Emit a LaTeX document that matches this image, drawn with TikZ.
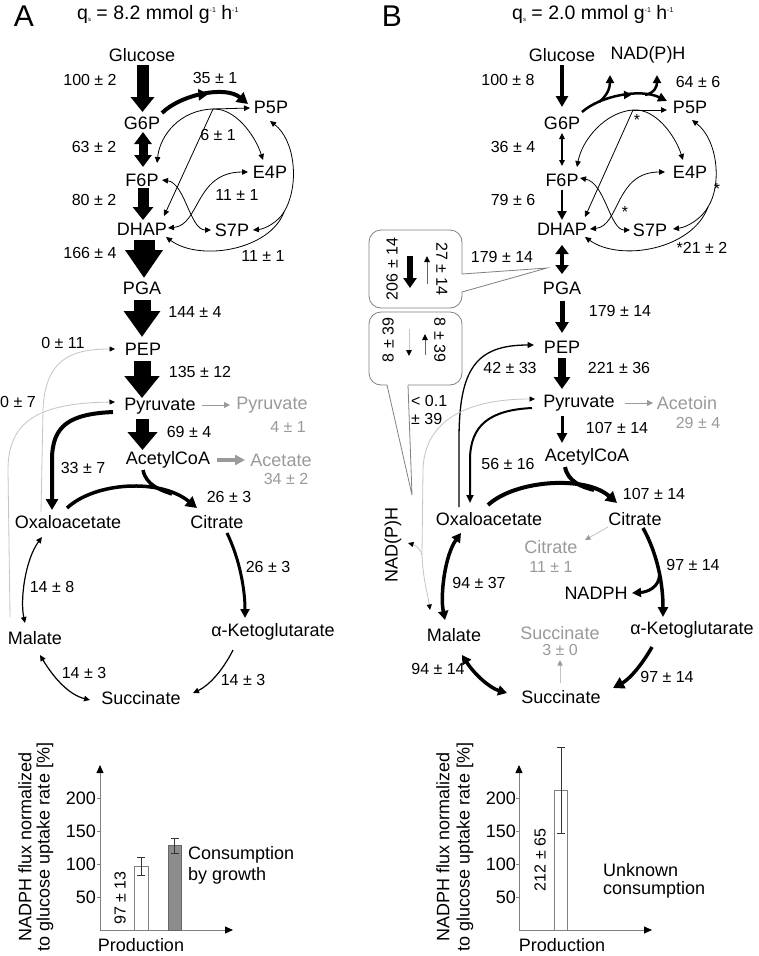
\documentclass[tikz,border=0pt]{standalone}
\usepackage{fontspec}
\setmainfont{Liberation Sans}
\usetikzlibrary{arrows.meta,calc,decorations.markings}
\definecolor{tgrey}{HTML}{9A9A9A}
\definecolor{lgrey}{HTML}{C4C4C4}
\definecolor{agrey}{HTML}{808080}
\begin{document}
\begin{tikzpicture}[x=1pt,y=-1pt,
 lbl/.style={font=\fontsize{18}{20}\selectfont, inner sep=0pt},
 ttl/.style={font=\fontsize{19.5}{21}\selectfont, inner sep=0pt},
 num/.style={font=\fontsize{16}{18}\selectfont, inner sep=0pt},
 big/.style={font=\fontsize{30}{30}\selectfont, inner sep=0pt},
 gtext/.style={text=tgrey},
 thinln/.style={line width=0.8pt},
 sa/.style={-{Triangle[width=5.5pt,length=6pt]}},
 sab/.style={{Triangle[width=5.5pt,length=6pt]}-{Triangle[width=5.5pt,length=6pt]}},
 ma/.style={-{Triangle[width=9pt,length=9pt]}},
 mab/.style={{Triangle[width=10pt,length=9pt]}-{Triangle[width=10pt,length=9pt]}},
 ta/.style={-{Triangle[width=12pt,length=11pt]}},
 ga/.style={lgrey, line width=0.8pt, -{Triangle[width=5pt,length=5.5pt,color=black]}},
 midA/.style={postaction={decorate,decoration={markings,mark=at position 0.55 with {\arrow{Triangle[width=11pt,length=10pt]}}}}},
 midB/.style={postaction={decorate,decoration={markings,mark=at position 0.6 with {\arrow{Triangle[width=8pt,length=8pt]}}}}},
]
\fill[white] (0,0) rectangle (758,956);
\path[use as bounding box] (0,0) rectangle (758,956);

% ================= PANEL A =================
\node[big] (labA) at (24,16) {A};
\node[ttl,anchor=west] (titA) at (77,14) {q\raisebox{-2pt}{\fontsize{6}{6}\selectfont s} = 8.2 mmol g\raisebox{7pt}{\fontsize{7}{7}\selectfont -1} h\raisebox{7pt}{\fontsize{7}{7}\selectfont -1}};

\node[lbl] (glcA) at (142,55) {Glucose};
\node[lbl] (g6pA) at (142,123) {G6P};
\node[lbl] (p5pA) at (271,107) {P5P};
\node[lbl] (f6pA) at (142,180) {F6P};
\node[lbl] (e4pA) at (270,172) {E4P};
\node[lbl] (dhapA) at (142,229) {DHAP};
\node[lbl] (s7pA) at (232,230) {S7P};
\node[lbl] (pgaA) at (142,288) {PGA};
\node[lbl] (pepA) at (143,349) {PEP};
\node[lbl] (pyrA) at (160,406) {Pyruvate};
\node[lbl,gtext] (pyrxA) at (272,405) {Pyruvate};
\node[num,gtext] (pyrxvA) at (288,427) {4 ± 1};
\node[lbl] (acoA) at (168,460) {AcetylCoA};
\node[lbl,gtext] (acexA) at (281,460) {Acetate};
\node[num,gtext] (acexvA) at (286,479) {34 ± 2};
\node[lbl] (oaaA) at (68,522) {Oxaloacetate};
\node[lbl] (citA) at (217,522) {Citrate};
\node[lbl] (akgA) at (273,632) {α-Ketoglutarate};
\node[lbl] (malA) at (35,638) {Malate};
\node[lbl] (sucA) at (141,698) {Succinate};

\node[num] (vA1) at (90,80) {100 ± 2};
\node[num] (vA2) at (215,78) {35 ± 1};
\node[num] (vA3) at (218,135) {6 ± 1};
\node[num] (vA4) at (94,147) {63 ± 2};
\node[num] (vA5) at (237,195) {11 ± 1};
\node[num] (vA6) at (94,200) {80 ± 2};
\node[num] (vA7) at (90,253) {166 ± 4};
\node[num] (vA8) at (263,256) {11 ± 1};
\node[num] (vA9) at (195,312) {144 ± 4};
\node[num] (vA10) at (63,343) {0 ± 11};
\node[num] (vA11) at (200,372) {135 ± 12};
\node[num,anchor=west] (vA12) at (0,402) {0 ± 7};
\node[num] (vA13) at (189,432) {69 ± 4};
\node[num] (vA14) at (83,468) {33 ± 7};
\node[num] (vA15) at (229,497) {26 ± 3};
\node[num] (vA16) at (268,567) {26 ± 3};
\node[num] (vA17) at (52,587) {14 ± 8};
\node[num] (vA18) at (84,673) {14 ± 3};
\node[num] (vA19) at (243,680) {14 ± 3};

% fat arrows
\draw[line width=12pt, -{Triangle[width=23pt,length=15pt]}] ($(glcA)+(0.5,10)$) -- ($(g6pA)+(0.5,-11)$);
\draw[line width=9pt, {Triangle[width=17pt,length=12pt]}-{Triangle[width=17pt,length=12pt]}] ($(g6pA)+(1,9)$) -- ($(f6pA)+(1,-13)$);
\draw[line width=11pt, -{Triangle[width=20pt,length=13pt]}] ($(f6pA)+(1,8)$) -- ($(dhapA)+(1,-9)$);
\draw[line width=21pt, -{Triangle[width=36pt,length=28pt]}] ($(dhapA)+(2,11)$) -- ($(pgaA)+(2,-10)$);
\draw[line width=17pt, -{Triangle[width=35pt,length=26pt]}] ($(pgaA)+(0,12)$) -- ($(pepA)+(-1,-12)$);
\draw[line width=17pt, -{Triangle[width=34pt,length=22pt]}] ($(pepA)+(-1,12)$) -- ($(pyrA)+(-18,-8)$);
\draw[line width=13pt, -{Triangle[width=29pt,length=18pt]}] ($(pyrA)+(-17.5,13)$) -- ($(acoA)+(-25.5,-10)$);

% oxidative PPP
\draw[line width=4pt, ta, midA] ($(g6pA)+(20,-10)$) .. controls (180,95) and (225,85) .. ($(p5pA)+(-23,-3)$);

% non-oxidative PPP
\coordinate (j1A) at (213,109);
\draw[thinln, sa] (j1A) -- ($(p5pA)+(-21,1)$);
\draw[thinln, sa] (j1A) .. controls (180,110) and (160,135) .. ($(f6pA)+(15,-17)$);
\draw[thinln, sa] (j1A) -- ($(dhapA)+(22,-13)$);
\draw[thinln, sa] (j1A) .. controls (235,108) and (255,135) .. ($(e4pA)+(-7,-12)$);
\draw[thinln, sab] ($(f6pA)+(20,0)$) .. controls (185,183) and (190,230) .. ($(s7pA)+(-21,0)$);
\draw[thinln, sab] ($(dhapA)+(26,-1)$) .. controls (200,225) and (195,172) .. ($(e4pA)+(-22,0)$);
\coordinate (j2A) at (284,212);
\draw[thinln, sa] (j2A) .. controls (300,185) and (295,140) .. ($(p5pA)+(-1,14)$);
\draw[thinln, sa] (j2A) .. controls (278,222) and (265,229) .. ($(s7pA)+(21,0)$);
\draw[thinln, sa] (j2A) .. controls (270,250) and (200,262) .. ($(dhapA)+(24,8)$);

% anaplerosis / TCA
\draw[line width=4pt, ta] ($(pyrA)+(-47,6)$) .. controls (70,414) and (52,425) .. (52,460) -- ($(oaaA)+(-16,-12)$);
\coordinate (mgA) at (172,494);
\draw[line width=3.5pt, ta] ($(oaaA)+(-1,-14)$) .. controls (95,482) and (160,478) .. ($(citA)+(-20,-14)$);
\draw[line width=3.5pt] ($(acoA)+(-25,10)$) .. controls (146,485) and (160,490) .. (mgA);
\draw[line width=3pt, ma] ($(citA)+(10,11)$) .. controls (240,560) and (245,590) .. ($(akgA)+(-28,-14)$);
\draw[line width=1.2pt, sab] ($(oaaA)+(-26,15)$) .. controls (25,560) and (20,600) .. ($(malA)+(-10,-15)$);
\draw[line width=1.2pt, sab] ($(malA)+(5,17)$) .. controls (55,680) and (70,695) .. ($(sucA)+(-51,2)$);
\draw[line width=1.2pt, sa] ($(akgA)+(-40,18)$) .. controls (222,672) and (208,686) .. ($(sucA)+(52,-5)$);

% grey gluconeogenic lines
\draw[ga] ($(oaaA)+(-27,-10)$) -- (43,410) .. controls (45,360) and (70,349) .. ($(pepA)+(-28,0)$);
\draw[ga] ($(malA)+(-25,-21)$) -- (8,470) .. controls (8,420) and (40,403) .. ($(pyrA)+(-45,-4)$);

% excretion
\draw[tgrey, line width=0.9pt, -{Triangle[width=6pt,length=6pt]}] ($(pyrA)+(42,-1)$) -- ($(pyrxA)+(-42,0)$);
\draw[tgrey, line width=4pt, -{Triangle[width=10pt,length=10pt]}] ($(acoA)+(49,0)$) -- ($(acexA)+(-36,0)$);

% chart A
\coordinate (oA) at (100,930);
\coordinate (yA) at (100,765);
\coordinate (xA) at (233,930);
\draw[agrey, line width=0.8pt, -{Triangle[width=7pt,length=8pt,color=black]}] (oA) -- (yA);
\draw[agrey, line width=0.8pt, -{Triangle[width=7pt,length=8pt,color=black]}] (oA) -- (xA);
\foreach \v/\yy in {200/798,150/831,100/864,50/897}{
  \draw[agrey, line width=0.6pt] (97,\yy) -- (100,\yy);
  \node[lbl,anchor=east] (tA\v) at (96,\yy) {\v};
}
\draw[agrey, fill=white, line width=0.8pt] (134,866) rectangle (148,930);
\draw[black!80, line width=0.9pt] (141,857) -- (141,875) (137,857) -- (145,857) (137,875) -- (145,875);
\draw[black!60, fill=black!45, line width=0.8pt] (168,845) rectangle (181,930);
\draw[black!80, line width=0.9pt] (174.5,838) -- (174.5,853) (170.5,838) -- (178.5,838) (170.5,853) -- (178.5,853);
\node[num, rotate=90] (bA1) at (120,898) {97 ± 13};
\node[lbl, anchor=west] (cA1) at (188,855) {Consumption};
\node[lbl, anchor=west] (cA2) at (188,876) {by growth};
\node[lbl] (prA) at (141,945) {Production};
\node[lbl, rotate=90] (yl1A) at (25,847) {NADPH flux normalized};
\node[lbl, rotate=90] (yl2A) at (45,847) {to glucose uptake rate [\%]};

% ================= PANEL B =================
\node[big] (labB) at (392,16) {B};
\node[ttl,anchor=west] (titB) at (512,14) {q\raisebox{-2pt}{\fontsize{6}{6}\selectfont s} = 2.0 mmol g\raisebox{7pt}{\fontsize{7}{7}\selectfont -1} h\raisebox{7pt}{\fontsize{7}{7}\selectfont -1}};

\node[lbl] (glcB) at (562,55) {Glucose};
\node[lbl] (nadB) at (648,55) {NAD(P)H};
\node[lbl] (g6pB) at (562,123) {G6P};
\node[lbl] (p5pB) at (690,107) {P5P};
\node[lbl] (f6pB) at (562,180) {F6P};
\node[lbl] (e4pB) at (690,172) {E4P};
\node[lbl] (dhapB) at (562,229) {DHAP};
\node[lbl] (s7pB) at (650,230) {S7P};
\node[lbl] (pgaB) at (562,288) {PGA};
\node[lbl] (pepB) at (562,347) {PEP};
\node[lbl] (pyrB) at (579,403) {Pyruvate};
\node[lbl,gtext] (actB) at (687,403) {Acetoin};
\node[num,gtext] (actvB) at (698,423) {29 ± 4};
\node[lbl] (acoB) at (587,457) {AcetylCoA};
\node[lbl] (oaaB) at (489,519) {Oxaloacetate};
\node[lbl] (citB) at (635,519) {Citrate};
\node[lbl,gtext] (citxB) at (551,547) {Citrate};
\node[num,gtext] (citxvB) at (551,567) {11 ± 1};
\node[lbl] (nadphB) at (596,593) {NADPH};
\node[lbl] (akgB) at (692,630) {α-Ketoglutarate};
\node[lbl] (malB) at (454,635) {Malate};
\node[lbl,gtext] (sucxB) at (560,633) {Succinate};
\node[num,gtext] (sucxvB) at (560,650) {3 ± 0};
\node[lbl] (sucB) at (561,697) {Succinate};
\node[lbl, rotate=90] (nadpB) at (393,545) {NAD(P)H};

\node[num] (vB1) at (508,80) {100 ± 8};
\node[num] (vB2) at (698,82) {64 ± 6};
\node[num] (vB3) at (513,147) {36 ± 4};
\node[num] (vB4) at (513,200) {79 ± 6};
\node[num] (vB5) at (702,248) {*21 ± 2};
\node[num] (vB6) at (502,257) {179 ± 14};
\node[num] (vB7) at (620,311) {179 ± 14};
\node[num] (vB8) at (619,368) {221 ± 36};
\node[num] (vB9) at (510,368) {42 ± 33};
\node[num,anchor=west] (vB10) at (411,401) {< 0.1};
\node[num,anchor=west] (vB11) at (411,419) {± 39};
\node[num] (vB12) at (617,428) {107 ± 14};
\node[num] (vB13) at (508,464) {56 ± 16};
\node[num] (vB14) at (654,494) {107 ± 14};
\node[num] (vB15) at (693,565) {97 ± 14};
\node[num] (vB16) at (479,583) {94 ± 37};
\node[num] (vB17) at (438,669) {94 ± 14};
\node[num] (vB18) at (667,677) {97 ± 14};
\node[num] (stB1) at (637,120) {*};
\node[num] (stB2) at (717,189) {*};
\node[num] (stB3) at (625,212) {*};

% glycolysis B
\draw[line width=3.5pt, -{Triangle[width=12pt,length=11pt]}] ($(glcB)+(0,10)$) -- ($(g6pB)+(0,-16)$);
\draw[line width=1.2pt, sab] ($(g6pB)+(0,10)$) -- ($(f6pB)+(0,-14)$);
\draw[line width=2.5pt, -{Triangle[width=9pt,length=9pt]}] ($(f6pB)+(0,10)$) -- ($(dhapB)+(0,-9)$);
\draw[line width=4.5pt, {Triangle[width=13pt,length=9pt]}-{Triangle[width=13pt,length=9pt]}] ($(dhapB)+(0,16)$) -- ($(pgaB)+(0,-14)$);
\draw[line width=5pt, -{Triangle[width=13pt,length=11pt]}] ($(pgaB)+(0,13)$) -- ($(pepB)+(0,-14)$);
\draw[line width=8pt, -{Triangle[width=16pt,length=12pt]}] ($(pepB)+(0,11)$) -- ($(pyrB)+(-17,-14)$);
\draw[line width=3pt, -{Triangle[width=10pt,length=10pt]}] ($(pyrB)+(-17,13)$) -- ($(acoB)+(-25,-14)$);

% oxidative PPP B
\draw[line width=2.5pt, -{Triangle[width=9pt,length=9pt]}, midB] ($(g6pB)+(20,-11)$) .. controls (600,96) and (640,88) .. ($(p5pB)+(-23,-6)$);
\coordinate (n1B) at (599,102);
\coordinate (n2B) at (645,95);
\draw[line width=2.5pt, -{Triangle[width=8pt,length=8pt]}] (n1B) .. controls (607,96) and (610,88) .. ($(nadB)+(-38,20)$);
\draw[line width=2.5pt, -{Triangle[width=8pt,length=8pt]}] (n2B) .. controls (655,93) and (657,86) .. ($(nadB)+(9,20)$);

% non-oxidative PPP B
\coordinate (j1B) at (633,110);
\draw[thinln, sa] (j1B) -- ($(p5pB)+(-23,3)$);
\draw[thinln, sa] (j1B) .. controls (605,112) and (582,140) .. ($(f6pB)+(15,-13)$);
\draw[thinln, sa] (j1B) -- ($(dhapB)+(23,-12)$);
\draw[thinln, sa] (j1B) .. controls (655,108) and (675,135) .. ($(e4pB)+(-7,-12)$);
\draw[thinln, sab] ($(f6pB)+(18,-2)$) .. controls (605,183) and (610,230) .. ($(s7pB)+(-20,0)$);
\draw[thinln, sab] ($(dhapB)+(28,0)$) .. controls (620,226) and (615,172) .. ($(e4pB)+(-25,0)$);
\coordinate (j2B) at (708,207);
\draw[thinln, sa] (j2B) .. controls (722,185) and (718,140) .. ($(p5pB)+(2,13)$);
\draw[thinln, sa] (j2B) .. controls (702,218) and (688,227) .. ($(s7pB)+(23,-1)$);
\draw[thinln, sa] (j2B) .. controls (692,250) and (620,262) .. ($(dhapB)+(23,8)$);

% callouts
\draw[agrey, line width=0.8pt, rounded corners=12pt] (462,274) -- (462,230) -- (369,230) -- (369,308) -- (462,308) -- (462,292);
\draw[agrey, line width=0.8pt] (462,274) -- (547,268) -- (462,292);
\draw[agrey, line width=0.8pt, rounded corners=12pt] (387,385) -- (369,385) -- (369,312) -- (462,312) -- (462,385) -- (408,385);
\draw[agrey, line width=0.8pt] (387,385) -- (412,495) -- (408,385);

\node[num, rotate=90] (k1) at (392,269) {206 ± 14};
\node[num, rotate=-90] (k2) at (442,269) {27 ± 14};
\coordinate (k1s) at (410,256); \coordinate (k1e) at (410,288);
\coordinate (k2s) at (427,284); \coordinate (k2e) at (427,256);
\draw[line width=6pt, -{Triangle[width=13pt,length=10pt]}] (k1s) -- (k1e);
\draw[black!60, line width=0.9pt, -{Triangle[width=5.5pt,length=6pt,color=black]}] (k2s) -- (k2e);

\node[num, rotate=90] (k3) at (388,340) {8 ± 39};
\node[num, rotate=-90] (k4) at (440,340) {8 ± 39};
\coordinate (k3s) at (409,329); \coordinate (k3e) at (409,356);
\coordinate (k4s) at (425,355); \coordinate (k4e) at (425,334);
\draw[lgrey, line width=0.9pt, -{Triangle[width=5.5pt,length=6pt,color=black]}] (k3s) -- (k3e);
\draw[black!60, line width=0.9pt, -{Triangle[width=5.5pt,length=6pt,color=black]}] (k4s) -- (k4e);

% anaplerosis B
\draw[line width=1.3pt, -{Triangle[width=6pt,length=6.5pt]}] ($(oaaB)+(-30,-12)$) -- (459,440) .. controls (459,370) and (475,345) .. ($(pepB)+(-28,-2)$);
\draw[line width=2pt, -{Triangle[width=7pt,length=8pt]}] ($(pyrB)+(-47,5)$) .. controls (490,410) and (470,425) .. (470,460) -- ($(oaaB)+(-19,-16)$);
\coordinate (j3B) at (422,555);
\draw[ga] (j3B) -- (423,470) .. controls (424,425) and (460,399) .. ($(pyrB)+(-44,-4)$);
\draw[ga] (j3B) .. controls (420,548) and (415,545) .. ($(nadpB)+(15,-2)$);
\draw[ga] (j3B) .. controls (423,580) and (428,595) .. ($(malB)+(-24,-25)$);

% TCA B
\coordinate (mgB) at (594,490);
\draw[line width=4pt, ta] ($(oaaB)+(-1,-14)$) .. controls (515,480) and (585,475) .. ($(citB)+(-18,-16)$);
\draw[line width=4pt] ($(acoB)+(-22,10)$) .. controls (568,482) and (582,487) .. (mgB);
\draw[lgrey, line width=0.8pt, -{Triangle[width=5pt,length=5.5pt,color=tgrey]}] ($(citB)+(-27,8)$) -- ($(citxB)+(34,-7)$);
\coordinate (brB) at (659.5,575);
\draw[line width=3.5pt, -{Triangle[width=10pt,length=10pt]}] ($(citB)+(8,9)$) .. controls (658,555) and (663,585) .. ($(akgB)+(-29,-13)$);
\draw[line width=3pt, ma] (brB) .. controls (659,587) and (648,592) .. ($(nadphB)+(36,0)$);
\draw[line width=3.5pt, mab] ($(oaaB)+(-28,14)$) .. controls (445,555) and (440,595) .. ($(malB)+(-9,-15)$);
\draw[line width=3.5pt, mab] ($(malB)+(8,20)$) .. controls (475,675) and (490,688) .. ($(sucB)+(-54,-4)$);
\draw[line width=3.5pt, ta] ($(akgB)+(-40,17)$) .. controls (640,668) and (628,680) .. ($(sucB)+(52,-9)$);
\draw[lgrey, line width=0.8pt, -{Triangle[width=5pt,length=5.5pt,color=tgrey]}] ($(sucB)+(-1,-14)$) -- ($(sucxB)+(0,27)$);
\draw[tgrey, line width=0.9pt, -{Triangle[width=6pt,length=6pt]}] ($(pyrB)+(46,0)$) -- ($(actB)+(-34,0)$);

% chart B
\coordinate (oB) at (519,930);
\coordinate (yB) at (519,765);
\coordinate (xB) at (652,930);
\draw[agrey, line width=0.8pt, -{Triangle[width=7pt,length=8pt,color=black]}] (oB) -- (yB);
\draw[agrey, line width=0.8pt, -{Triangle[width=7pt,length=8pt,color=black]}] (oB) -- (xB);
\foreach \v/\yy in {200/798,150/831,100/864,50/897}{
  \draw[agrey, line width=0.6pt] (516,\yy) -- (519,\yy);
  \node[lbl,anchor=east] (tB\v) at (516,\yy) {\v};
}
\draw[agrey, fill=white, line width=0.8pt] (554,790) rectangle (567,930);
\draw[black!80, line width=0.9pt] (561,747) -- (561,833) (557,747) -- (565,747) (557,833) -- (565,833);
\node[num, rotate=90] (bB1) at (540,860) {212 ± 65};
\node[lbl, anchor=west] (cB1) at (603,870) {Unknown};
\node[lbl, anchor=west] (cB2) at (603,890) {consumption};
\node[lbl] (prB) at (562,945) {Production};
\node[lbl, rotate=90] (yl1B) at (443,847) {NADPH flux normalized};
\node[lbl, rotate=90] (yl2B) at (465,847) {to glucose uptake rate [\%]};
\end{tikzpicture}
\end{document}
